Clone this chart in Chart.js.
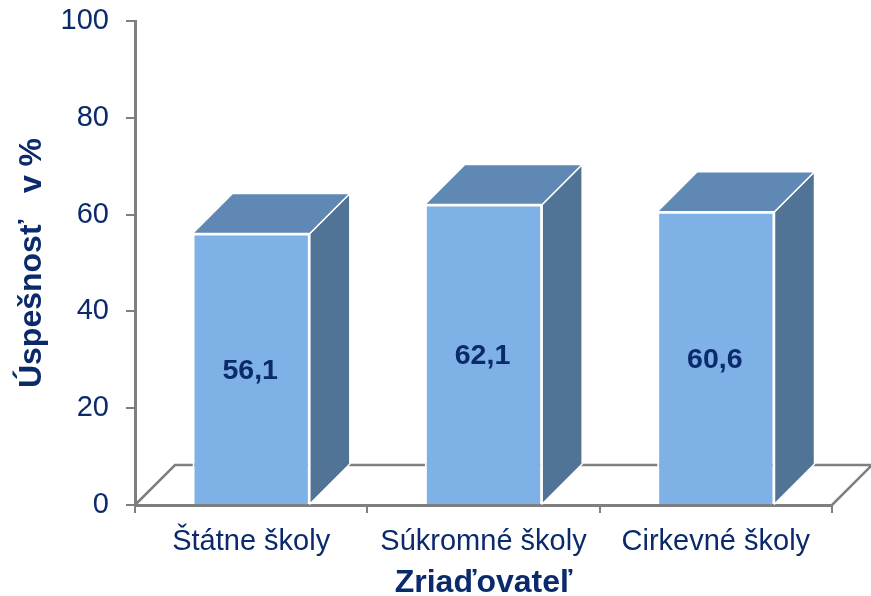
<!DOCTYPE html>
<html>
<head>
<meta charset="utf-8">
<style>
  html, body { margin: 0; padding: 0; background: #fff; }
  #wrap { width: 871px; height: 596px; }
</style>
</head>
<body>
<div id="wrap"><canvas id="chart" width="871" height="596"></canvas></div>
<script src="https://cdn.jsdelivr.net/npm/chart.js@4/dist/chart.umd.min.js"></script>
<script>
const categories = ['Štátne školy', 'Súkromné školy', 'Cirkevné školy'];
const values = [56.1, 62.1, 60.6];
const yTicks = [0, 20, 40, 60, 80, 100];
const yTitle = 'Úspešnosť   v %';
const xTitle = 'Zriaďovateľ';

const FONT = "'Liberation Sans', Arial, sans-serif";
const TEXT = '#0b2a6b';
const AXIS = '#7f7f7f';
const FRONT = '#7eb1e6';
const TOP = '#5f89b4';
const SIDE = '#507396';
const DEPTH = 40;

// floor of the fake 3D box, behind the bars
const floor3d = {
  id: 'floor3d',
  beforeDatasetsDraw(chart) {
    const { ctx, chartArea: a } = chart;
    ctx.save();
    ctx.strokeStyle = AXIS;
    ctx.lineWidth = 2.5;
    ctx.beginPath();
    ctx.moveTo(a.left, a.bottom);
    ctx.lineTo(a.left + DEPTH, a.bottom - DEPTH);
    ctx.lineTo(a.right + DEPTH, a.bottom - DEPTH);
    ctx.lineTo(a.right, a.bottom);
    ctx.stroke();
    ctx.restore();
  },
};

// top and side faces of each bar, then the value in the middle of the front
const faces3d = {
  id: 'faces3d',
  afterDatasetsDraw(chart) {
    const { ctx } = chart;
    const bars = chart.getDatasetMeta(0).data;
    ctx.save();
    ctx.strokeStyle = '#fff';
    ctx.lineWidth = 1.5;
    ctx.lineJoin = 'round';
    bars.forEach((bar, i) => {
      const half = bar.width / 2;
      const l = bar.x - half;
      const r = bar.x + half;
      const t = bar.y;
      const b = bar.base;

      ctx.fillStyle = SIDE;
      ctx.beginPath();
      ctx.moveTo(r, t);
      ctx.lineTo(r + DEPTH, t - DEPTH);
      ctx.lineTo(r + DEPTH, b - DEPTH);
      ctx.lineTo(r, b);
      ctx.closePath();
      ctx.fill();
      ctx.stroke();

      ctx.fillStyle = TOP;
      ctx.beginPath();
      ctx.moveTo(l, t);
      ctx.lineTo(l + DEPTH, t - DEPTH);
      ctx.lineTo(r + DEPTH, t - DEPTH);
      ctx.lineTo(r, t);
      ctx.closePath();
      ctx.fill();
      ctx.stroke();

      ctx.fillStyle = TEXT;
      ctx.font = 'bold 28.5px ' + FONT;
      ctx.textAlign = 'center';
      ctx.textBaseline = 'middle';
      ctx.fillText(values[i].toFixed(1).replace('.', ','), bar.x - 1, (t + b) / 2 + 2);
    });
    ctx.restore();
  },
};

new Chart(document.getElementById('chart'), {
  type: 'bar',
  data: {
    labels: categories,
    datasets: [{
      data: values,
      backgroundColor: FRONT,
      borderColor: '#fff',
      borderWidth: 2,
      barPercentage: 0.505,
      categoryPercentage: 1,
    }],
  },
  options: {
    responsive: false,
    animation: false,
    layout: { padding: { top: 21, right: 39, left: 0, bottom: 0 } },
    plugins: { legend: { display: false }, tooltip: { enabled: false } },
    scales: {
      x: {
        afterFit: (s) => { s.height = 91; },
        grid: { drawOnChartArea: false, color: AXIS, lineWidth: 2, tickLength: 8 },
        border: { color: AXIS, width: 3 },
        ticks: { color: TEXT, font: { family: FONT, size: 29 }, padding: 12, maxRotation: 0 },
        title: { display: true, text: xTitle, color: TEXT, font: { family: FONT, size: 32, weight: 'bold', lineHeight: 1 }, padding: { top: 6, bottom: -3 } },
      },
      y: {
        min: 0,
        max: 100,
        // big tick padding would otherwise push the plot top down
        afterFit: (s) => { s.width = 135; s.paddingTop = 0; s.paddingBottom = 0; },
        afterBuildTicks: (s) => { s.ticks = yTicks.map((v) => ({ value: v })); },
        grid: { drawOnChartArea: false, color: AXIS, lineWidth: 2, tickLength: 9 },
        border: { color: AXIS, width: 3 },
        ticks: { color: TEXT, font: { family: FONT, size: 29 }, padding: 17 },
        title: { display: true, text: yTitle, color: TEXT, font: { family: FONT, size: 32, weight: 'bold', lineHeight: 1 }, padding: { top: 16, bottom: 0 } },
      },
    },
  },
  plugins: [floor3d, faces3d],
});
</script>
</body>
</html>
